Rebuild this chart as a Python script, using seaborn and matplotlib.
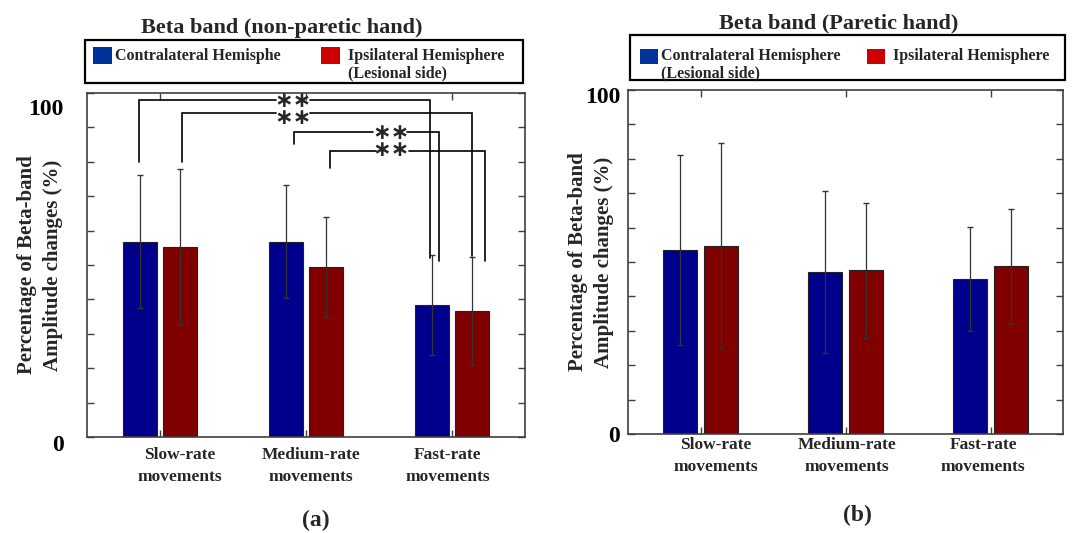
import numpy as np
import pandas as pd
import matplotlib
matplotlib.use("Agg")
import matplotlib.pyplot as plt
import seaborn as sns
from matplotlib.patches import Rectangle
from matplotlib.transforms import ScaledTranslation, blended_transform_factory

# ---------------- data ----------------
categories = ["Slow-rate", "Medium-rate", "Fast-rate"]
xlabels = ["Slow-rate\nmovements", "Medium-rate\nmovements", "Fast-rate\nmovements"]
hemis = ["Contralateral", "Ipsilateral"]

a_contra = [56.8, 56.8, 38.4]
a_ipsi = [55.3, 49.4, 36.6]
a_contra_sd = [19.4, 16.5, 14.5]
a_ipsi_sd = [22.7, 14.5, 15.6]

b_contra = [53.5, 47.0, 45.0]
b_ipsi = [54.7, 47.6, 48.7]
b_contra_sd = [27.6, 23.5, 15.2]
b_ipsi_sd = [29.8, 19.6, 16.7]

ytick_vals = [0, 100]
ytick_labels = ["0", "100"]

title_a = "Beta band (non-paretic hand)"
title_b = "Beta band (Paretic hand)"
legend_a = ["Contralateral Hemisphe", "Ipsilateral Hemisphere\n(Lesional side)"]
legend_b = ["Contralateral Hemisphere\n(Lesional side)", "Ipsilateral Hemisphere"]
ylabel = "Percentage of Beta-band\nAmplitude changes (%)"

# significance brackets (panel a)
brk_x_left = [-0.144, 0.149, 0.918, 1.164]
brk_y_left = [79.9, 79.9, 85.2, 78.1]
brk_x_right = [1.849, 2.137, 1.911, 2.226]
brk_y_right = [52.0, 52.6, 51.3, 51.3]
brk_y_top = [97.9, 94.3, 88.6, 83.1]
gap_x = [0.911, 0.911, 1.575, 1.592]
# stacked star marks (one pair of brackets each)
star_x = [0.911, 1.584]
star_y = [95.15, 85.9]
star_text = ["\u2217\u2217\n\u2217\u2217", "\u2217\u2217\n\u2217\u2217"]

# ---------------- style ----------------
BAR_BLUE = "#00008c"
BAR_RED = "#800000"
LEG_BLUE = "#003399"
LEG_RED = "#cc0000"
FRAME = "#404040"
STAR_GAP = 0.115  # half-width of the gap in bracket lines around stars

sns.set_theme(style="white")
plt.rcParams["font.family"] = ["Liberation Serif", "DejaVu Sans"]
plt.rcParams["font.weight"] = "bold"
plt.rcParams["axes.labelweight"] = "bold"

W, H = 1073, 533
fig = plt.figure(figsize=(W / 100, H / 100), dpi=100)


def fx(x):
    return x / W


def fy(y):
    return 1 - y / H


ax_a = fig.add_axes([fx(87), fy(437), (525 - 87) / W, (437 - 93) / H])
ax_b = fig.add_axes([fx(628), fy(434), (1063 - 628) / W, (434 - 90) / H])


def draw_panel(ax, contra, ipsi, contra_sd, ipsi_sd, label_x, label_y,
               ypad, ylab_shift, ylab_x):
    df = pd.DataFrame({
        "cond": categories * 2,
        "hemi": [hemis[0]] * 3 + [hemis[1]] * 3,
        "val": contra + ipsi,
    })
    sns.barplot(data=df, x="cond", y="val", hue="hemi", order=categories,
                hue_order=hemis, palette=[BAR_BLUE, BAR_RED], width=0.56,
                gap=0.167, errorbar=None, edgecolor="#222222", linewidth=0.8,
                saturation=1, legend=False, ax=ax, zorder=2)
    for cont, sds in zip(ax.containers, [contra_sd, ipsi_sd]):
        for bar, sd in zip(cont, sds):
            xc = bar.get_x() + bar.get_width() / 2
            ax.errorbar(xc, bar.get_height(), yerr=sd, ecolor="#333333",
                        elinewidth=0.9, capsize=2.5, capthick=1.0, fmt="none",
                        zorder=3)
    ax.set_xlim(-0.5, 2.5)
    ax.set_ylim(0, 100)
    ax.set_xticks(range(len(categories)))
    ax.set_xticklabels([])
    ax.set_yticks(ytick_vals)
    ax.set_yticklabels(ytick_labels)
    ax.set_yticks(np.arange(10, 100, 10), minor=True)
    ax.set_xlabel("")
    ax.tick_params(which="both", direction="in", left=True, right=True,
                   top=True, bottom=True, length=5, width=1, color=FRAME)
    ax.tick_params(axis="y", labelsize=17, pad=ypad, labelcolor="black")
    for lab, dy in zip(ax.get_yticklabels(), ylab_shift):
        lab.set_transform(lab.get_transform() +
                          ScaledTranslation(0, -dy / 100, fig.dpi_scale_trans))
    for s in ax.spines.values():
        s.set_visible(True)
        s.set_color(FRAME)
        s.set_linewidth(1.2)
    trans = blended_transform_factory(ax.transData, ax.transAxes)
    for x, t in zip(label_x, xlabels):
        ax.text(x, label_y, t, transform=trans, ha="center", va="center",
                fontsize=12.5, linespacing=1.45)
    ax.set_ylabel(ylabel, fontsize=15, va="center", linespacing=1.38)
    ax.yaxis.set_label_coords(ylab_x, 0.5)


draw_panel(ax_a, a_contra, a_ipsi, a_contra_sd, a_ipsi_sd,
           [0.137, 1.034, 1.97], -0.0843, 17, [6, 14], -0.107)
draw_panel(ax_b, b_contra, b_ipsi, b_contra_sd, b_ipsi_sd,
           [0.105, 1.01, 1.95], -0.064, 5.5, [0, 5], -0.085)

# significance brackets (line broken around the stars)
for xl, yl, xr, yr, yt, gx in zip(brk_x_left, brk_y_left, brk_x_right,
                                  brk_y_right, brk_y_top, gap_x):
    ax_a.plot([xl, xl, gx - STAR_GAP], [yl, yt, yt], color="black", lw=1.2,
              zorder=4, solid_joinstyle="miter")
    ax_a.plot([gx + STAR_GAP, xr, xr], [yt, yt, yr], color="black", lw=1.2,
              zorder=4, solid_joinstyle="miter")
for sx, sy, st in zip(star_x, star_y, star_text):
    ax_a.text(sx, sy, st, family="DejaVu Sans", fontsize=16,
              ha="center", va="center", linespacing=0.82, zorder=5)

# titles
fig.text(fx(282), fy(28), title_a, ha="center", va="center", fontsize=16)
fig.text(fx(839), fy(23), title_b, ha="center", va="center", fontsize=16)


# legends
def legend_box(x0, y0, x1, y1, sq1, sq2, t1, t2, texts):
    fig.add_artist(Rectangle((fx(x0), fy(y1)), (x1 - x0) / W, (y1 - y0) / H,
                             transform=fig.transFigure, fill=False,
                             edgecolor="black", lw=1.6))
    for (sx0, sy0, sx1, sy1), col in zip([sq1, sq2], [LEG_BLUE, LEG_RED]):
        fig.add_artist(Rectangle((fx(sx0), fy(sy1)), (sx1 - sx0) / W,
                                 (sy1 - sy0) / H, transform=fig.transFigure,
                                 facecolor=col, edgecolor="none"))
    for (tx, ty), txt in zip([t1, t2], texts):
        fig.text(fx(tx), fy(ty), txt, ha="left", va="top", fontsize=11.5,
                 linespacing=1.12)


legend_box(85, 40, 523, 83, (93, 47, 112, 64), (321, 47, 340, 64),
           (115, 48), (348, 48), legend_a)
legend_box(630, 35, 1065, 80, (640, 49, 658, 64), (867, 49, 885, 64),
           (661, 48), (893, 48), legend_b)

# panel labels
fig.text(fx(316), fy(520), "(a)", ha="center", va="center", fontsize=17)
fig.text(fx(857), fy(515), "(b)", ha="center", va="center", fontsize=17)

fig.savefig("out.png", dpi=100)
